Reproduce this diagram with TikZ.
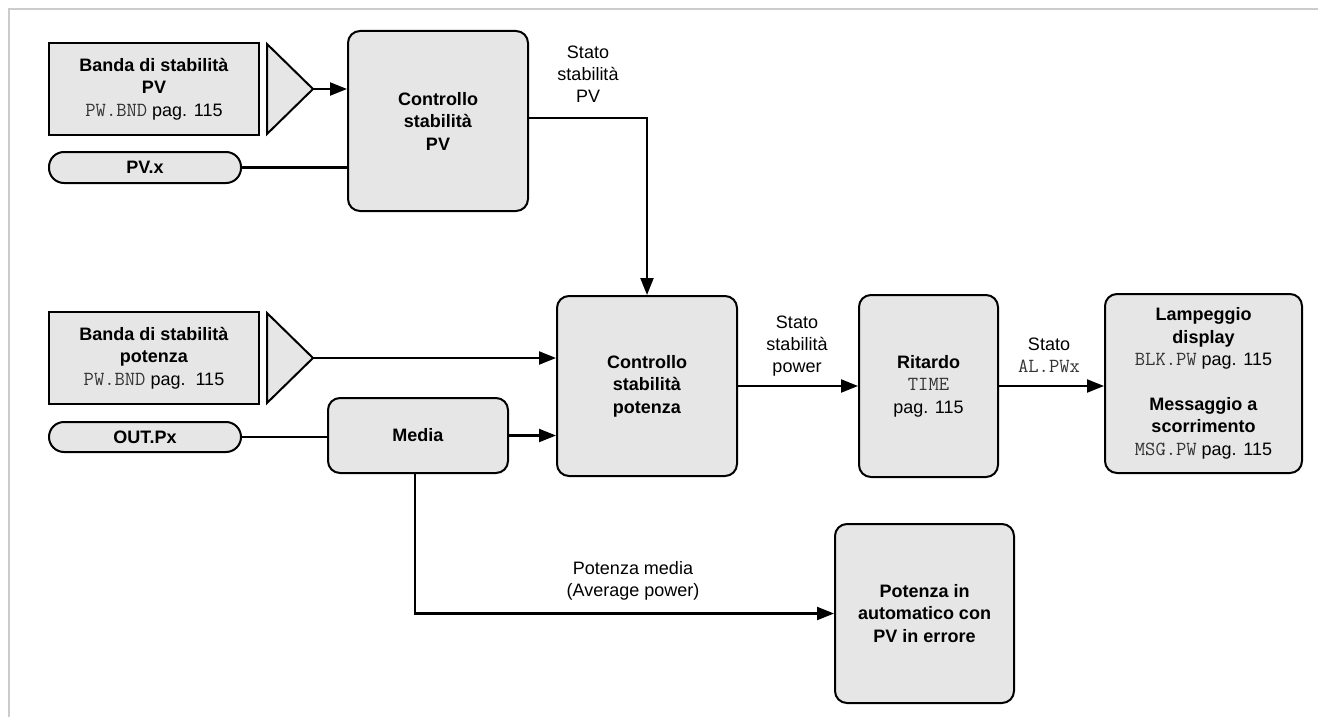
\documentclass[tikz,border=0pt]{standalone}
\usepackage{fontspec}
\setmainfont{Liberation Sans}
\usetikzlibrary{arrows.meta,calc}
\definecolor{boxfill}{HTML}{E6E6E6}
\definecolor{framegray}{HTML}{CCCCCC}
\definecolor{monogray}{HTML}{333333}
\newcommand{\mn}[1]{{\ttfamily\fontsize{20}{22}\selectfont\color{monogray}#1}}
\tikzset{
  base/.style={draw=black, line width=2pt, fill=boxfill, align=center, inner sep=0pt,
     font=\fontsize{18}{22.5}\selectfont},
  sqbox/.style={base},
  rbox/.style={base, rounded corners=12pt},
  pill/.style={base, rounded corners=15pt},
  lbl/.style={align=center, inner sep=0pt, font=\fontsize{18}{22}\selectfont},
  conn/.style={line width=2.2pt},
  arr/.style={conn, -{Triangle[length=17pt,width=13pt]}},
  tri/.style={draw=black, line width=2pt, fill=boxfill, line join=miter}
}
\begin{document}
\begin{tikzpicture}[x=1pt,y=-1pt]
\useasboundingbox (0,0) rectangle (1318,717);
% frame
\draw[framegray, line width=2pt] (9,717) -- (9,9.5) -- (1318,9.5);

% left inputs
\node[sqbox, minimum width=210pt, minimum height=92pt] (bpv) at (154,89)
  {\textbf{Banda di stabilità}\\\textbf{PV}\\\mn{PW.BND} pag. 115};
\draw[tri] (267,44) -- (313,89) -- (267,134) -- cycle;
\coordinate (apex1) at (313,89);

\node[pill, minimum width=192pt, minimum height=31pt] (pvx) at (145,167.5) {\textbf{PV.x}};

\node[sqbox, minimum width=210pt, minimum height=92pt] (bpo) at (154,358)
  {\textbf{Banda di stabilità}\\\textbf{potenza}\\\mn{PW.BND} pag.\ \ 115};
\draw[tri] (267,313) -- (313,358) -- (267,403) -- cycle;
\coordinate (apex2) at (313,358);

\node[pill, minimum width=192pt, minimum height=30pt] (outp) at (145,437) {\textbf{OUT.Px}};

% main blocks
\node[rbox, minimum width=180pt, minimum height=180pt] (cpv) at (438,121)
  {\textbf{Controllo}\\\textbf{stabilità}\\\textbf{PV}};
\node[rbox, minimum width=180pt, minimum height=75pt] (med) at (418,435.5) {\textbf{Media}};
\node[rbox, minimum width=180pt, minimum height=180pt] (cps) at (647,386)
  {\textbf{Controllo}\\\textbf{stabilità}\\\textbf{potenza}};
\node[rbox, minimum width=139pt, minimum height=182pt] (rit) at (928.5,386)
  {\textbf{Ritardo}\\\mn{TIME}\\pag. 115};
\node[rbox, minimum width=197pt, minimum height=179pt] (out) at (1203.5,383.5)
  {\textbf{Lampeggio}\\\textbf{display}\\\mn{BLK.PW} pag. 115\\[22pt]\textbf{Messaggio a}\\\textbf{scorrimento}\\\mn{MSG.PW} pag. 115};
\node[rbox, minimum width=179pt, minimum height=179pt] (pot) at (924.5,613.5)
  {\textbf{Potenza in}\\\textbf{automatico con}\\\textbf{PV in errore}};

% labels
\node[lbl] (l1) at (588,74) {Stato\\stabilità\\PV};
\node[lbl] (l2) at (797,346) {Stato\\stabilità\\power};
\node[lbl] (l3) at (1049,355) {Stato\\\mn{AL.PWx}};
\node[lbl] (l4) at (633,581) {Potenza media\\(Average power)};

% connectors
\draw[arr] (apex1) -- (apex1 -| cpv.west);
\draw[conn] (pvx.east) -- (pvx.east -| cpv.west);
\draw[arr] ($(cpv.east)+(0,-3)$) -| (cps.north);
\draw[arr] (apex2) -- (apex2 -| cps.west);
\draw[conn] (outp.east) -- (outp.east -| med.west);
\draw[arr] (med.east) -- (med.east -| cps.west);
\draw[arr] ($(med.south)+(-3,0)$) |- (pot.west);
\draw[arr] (cps.east) -- (rit.west);
\draw[arr] (rit.east) -- (rit.east -| out.west);
\end{tikzpicture}
\end{document}
